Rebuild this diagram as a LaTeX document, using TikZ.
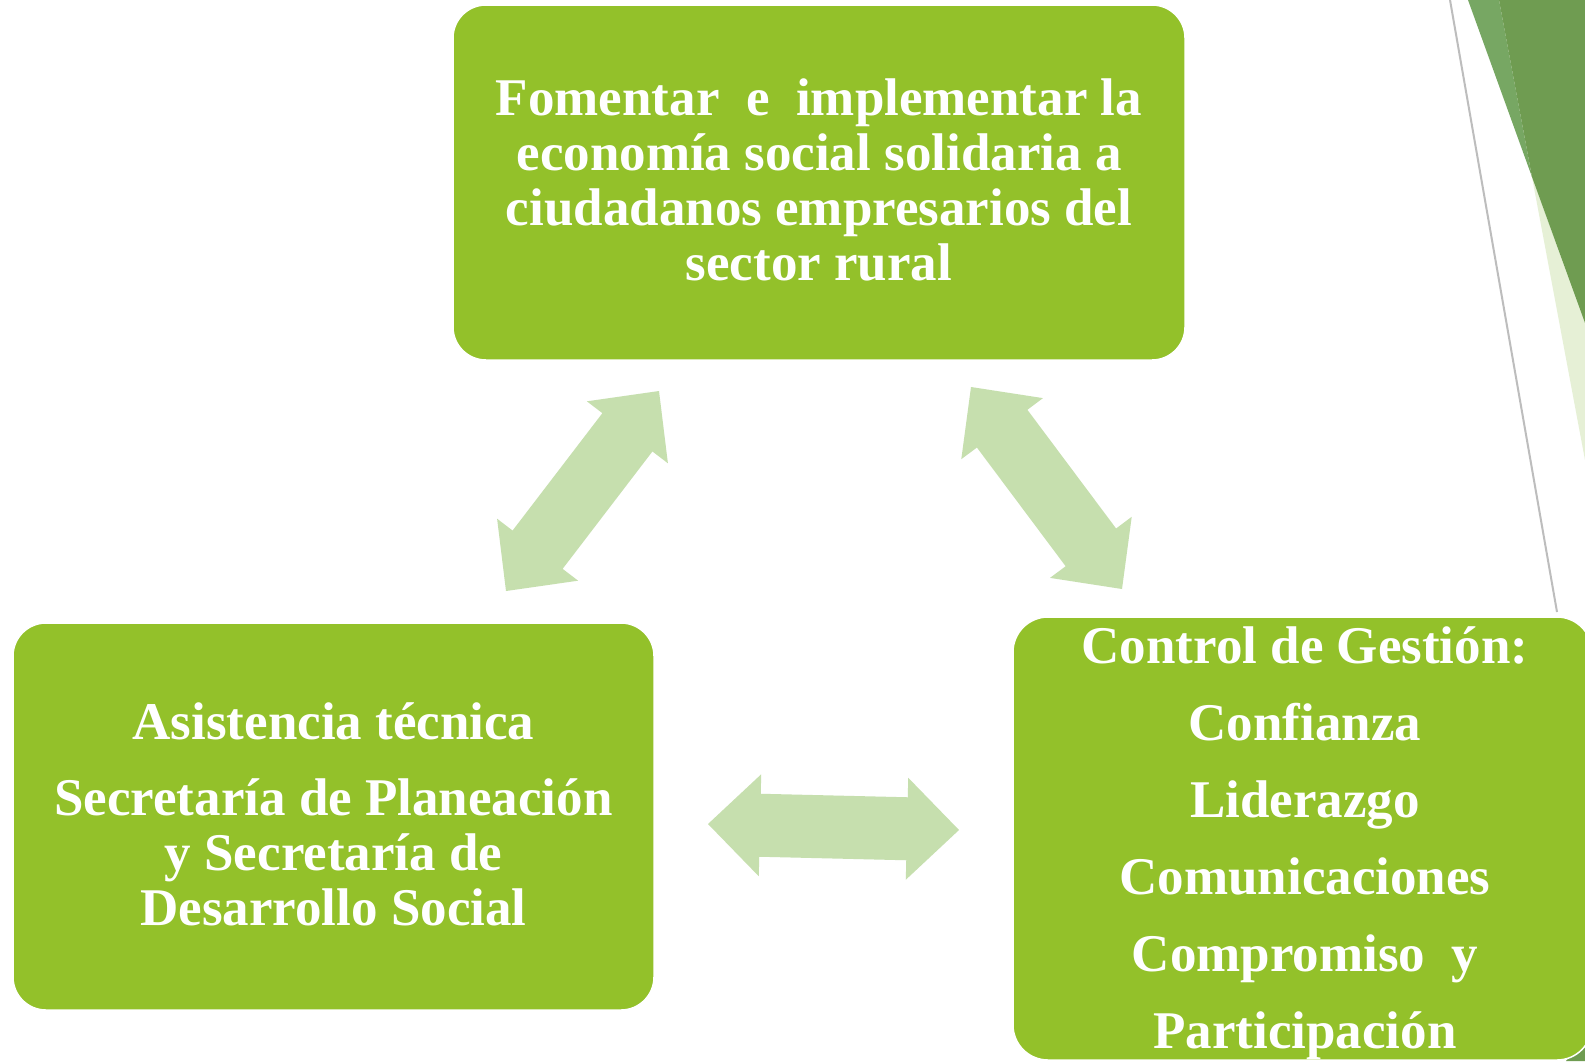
\documentclass[tikz,border=0pt]{standalone}
\usepackage{fontspec}
\setmainfont{Liberation Serif}
\usetikzlibrary{calc}
\lineskiplimit=-1000pt
\newcommand\natspace{\spaceskip=13.25pt plus 0pt minus 0pt\xspaceskip=13.25pt plus 0pt minus 0pt\relax}
\definecolor{boxgreen}{HTML}{93C12A}
\definecolor{arrowgreen}{HTML}{C6DFAE}
\definecolor{darkgreen}{HTML}{6F9C51}
\definecolor{bandgreen}{HTML}{77A763}
\definecolor{palegreen}{HTML}{E6F0D6}
\definecolor{linegrey}{HTML}{BDBDBD}
\newcommand\dblarrow[2]{%
  \fill[barrow] (#1)
    -- ($(#1)!72.84pt!44.44:(#2)$)
    -- ($(#1)!60.80pt!31.21:(#2)$)
    -- ($(#2)!60.80pt!-31.21:(#1)$)
    -- ($(#2)!72.84pt!-44.44:(#1)$)
    -- (#2)
    -- ($(#2)!72.84pt!44.44:(#1)$)
    -- ($(#2)!60.80pt!31.21:(#1)$)
    -- ($(#1)!60.80pt!-31.21:(#2)$)
    -- ($(#1)!72.84pt!-44.44:(#2)$)
    -- cycle;}
\begin{document}
\begin{tikzpicture}[x=1pt,y=-1pt,
  box/.style={draw=white, line width=1.5pt, fill=boxgreen, rounded corners=33pt, inner sep=0pt},
  txt/.style={text=white, font=\bfseries\fontsize{53}{55}\selectfont\natspace, align=center, anchor=base, inner sep=0pt},
  barrow/.style={fill=arrowgreen}]
\useasboundingbox (0,0) rectangle (1585,1061);
\clip (0,0) rectangle (1585,1061);
\fill[white] (0,0) rectangle (1585,1061);
% decoration top right
\fill[palegreen] (1532,177) -- (1585,323) -- (1585,460) -- cycle;
\fill[bandgreen] (1468,0) -- (1499,0) -- (1532,177) -- cycle;
\fill[darkgreen] (1499,0) -- (1585,0) -- (1585,323) -- (1532,177) -- cycle;
\draw[linegrey, line width=2pt] (1450,0) -- (1557,612);
\fill[darkgreen] (1566,1061) -- (1585,1038) -- (1585,1061) -- cycle;
% boxes
\node[box, minimum width=732pt, minimum height=355pt] (top) at (819,182.5) {};
\node[box, minimum width=641pt, minimum height=387pt] (left) at (333.5,816.5) {};
\node[box, minimum width=579pt, minimum height=443pt, rounded corners=35pt] (right) at (1302.5,838.5) {};
% texts
\node[txt, text width=720pt] (toptext) at (819,115) {\natspace Fomentar\ \ e\ \ implementar la\\ \natspace economía social solidaria a\\ \natspace ciudadanos empresarios del\\ \natspace sector rural};
\node[txt, text width=630pt] (lefttext) at (333.5,739) {\natspace Asistencia técnica\\[21pt] \natspace Secretaría de Planeación\\ \natspace y Secretaría de\\ \natspace Desarrollo Social};
\node[txt, text width=570pt, font=\bfseries\fontsize{53}{77}\selectfont] (righttext) at (1305,663) {\natspace Control de Gestión:\\ Confianza\\ Liderazgo\\ Comunicaciones\\ \natspace Compromiso\ \ y\\ Participación};
% arrows
\coordinate (a1s) at (506,591); \coordinate (a1e) at (659,391);
\coordinate (a2s) at (971,387); \coordinate (a2e) at (1122,589);
\coordinate (a3s) at (708,824); \coordinate (a3e) at (959,830);
\dblarrow{a1s}{a1e}
\dblarrow{a2s}{a2e}
\dblarrow{a3s}{a3e}
\end{tikzpicture}
\end{document}
